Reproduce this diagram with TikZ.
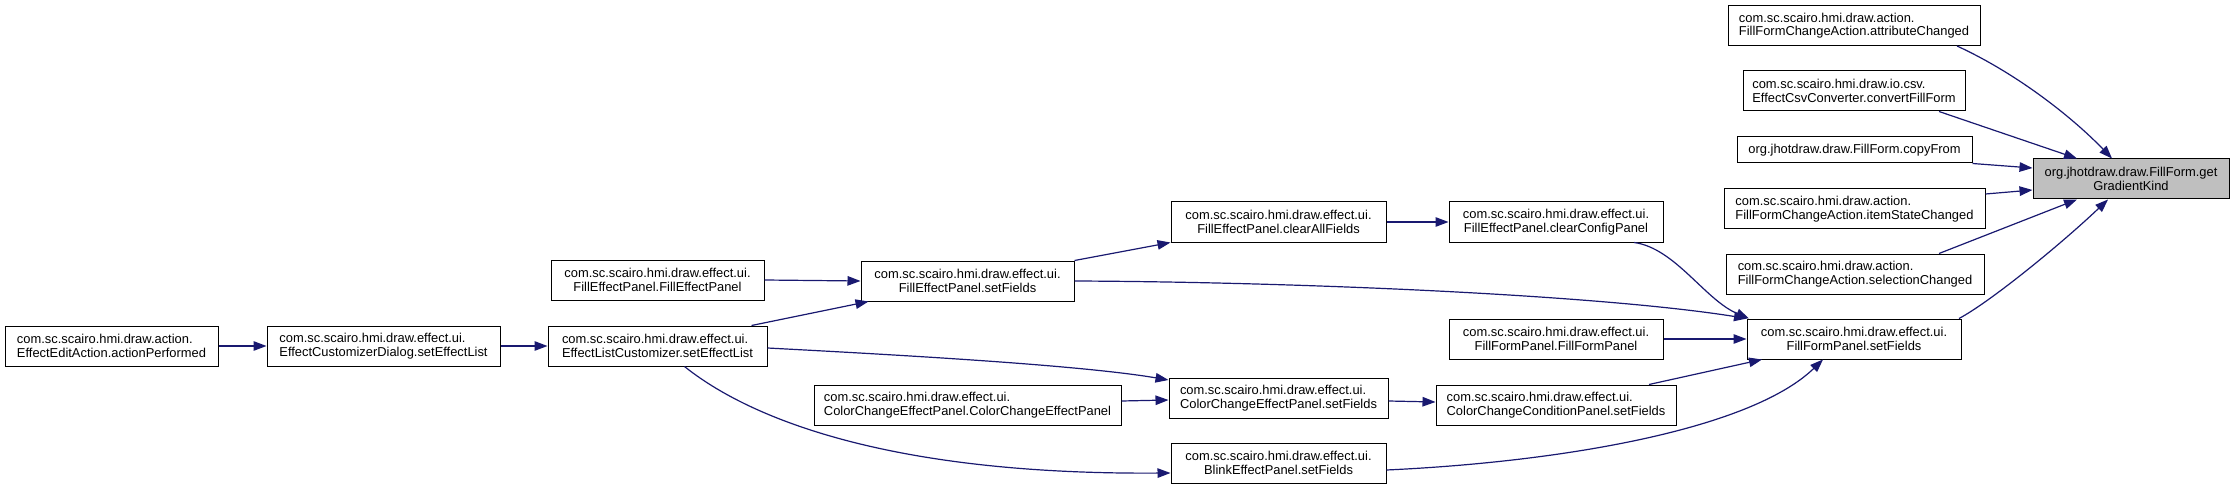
\documentclass[tikz,border=0pt]{standalone}
\usepackage{fontspec}
\setmainfont{Liberation Sans}
\usetikzlibrary{arrows.meta}
\definecolor{edgeblue}{HTML}{191970}
\definecolor{hilite}{HTML}{BFBFBF}
\newcommand\nodefont{\fontsize{12.9}{13.6}\selectfont}
\begin{document}
\begin{tikzpicture}[x=1pt,y=-1pt,
  box/.style={draw=black, line width=1pt, fill=white, font=\nodefont, inner sep=0pt, minimum height=40pt, align=center},
  lbox/.style={box, align=left},
  conn/.style={draw=edgeblue, line width=1.2pt, -{Triangle[length=13pt,width=9.5pt]}, fill=none}
]
\fill[white] (0,0) rectangle (2235,489);
\useasboundingbox (0,0) rectangle (2235,489);

% nodes
\node[lbox, minimum width=252pt] (attr) at (1854,25.5) {com.sc.scairo.hmi.draw.action.\\FillFormChangeAction.attributeChanged};
\node[lbox, minimum width=222pt] (conv) at (1854,91) {com.sc.scairo.hmi.draw.io.csv.\\EffectCsvConverter.convertFillForm};
\node[box, minimum width=235pt, minimum height=26pt] (copy) at (1854.5,150) {org.jhotdraw.draw.FillForm.copyFrom};
\node[box, fill=hilite, minimum width=196pt] (ggk) at (2131,179) {org.jhotdraw.draw.FillForm.get\\GradientKind};
\node[lbox, minimum width=261pt] (item) at (1854.5,209) {com.sc.scairo.hmi.draw.action.\\FillFormChangeAction.itemStateChanged};
\node[lbox, minimum width=258pt] (sel) at (1855,274) {com.sc.scairo.hmi.draw.action.\\FillFormChangeAction.selectionChanged};
\node[box, minimum width=214pt] (ffps) at (1854,339) {com.sc.scairo.hmi.draw.effect.ui.\\FillFormPanel.setFields};
\node[box, minimum width=214pt] (ffpc) at (1556,339) {com.sc.scairo.hmi.draw.effect.ui.\\FillFormPanel.FillFormPanel};
\node[lbox, minimum width=240pt] (cccp) at (1556,405) {com.sc.scairo.hmi.draw.effect.ui.\\ColorChangeConditionPanel.setFields};
\node[box, minimum width=214pt] (ccfg) at (1556,222) {com.sc.scairo.hmi.draw.effect.ui.\\FillEffectPanel.clearConfigPanel};
\node[box, minimum width=215pt] (caf) at (1278.5,222) {com.sc.scairo.hmi.draw.effect.ui.\\FillEffectPanel.clearAllFields};
\node[box, minimum width=213pt] (feps) at (967.5,281) {com.sc.scairo.hmi.draw.effect.ui.\\FillEffectPanel.setFields};
\node[box, minimum width=213pt] (fepc) at (657.5,280) {com.sc.scairo.hmi.draw.effect.ui.\\FillEffectPanel.FillEffectPanel};
\node[lbox, minimum width=219pt] (elc) at (657.5,346) {com.sc.scairo.hmi.draw.effect.ui.\\EffectListCustomizer.setEffectList};
\node[lbox, minimum width=233pt] (ecd) at (383.5,346) {com.sc.scairo.hmi.draw.effect.ui.\\EffectCustomizerDialog.setEffectList};
\node[lbox, minimum width=213pt] (eea) at (111.5,346) {com.sc.scairo.hmi.draw.action.\\EffectEditAction.actionPerformed};
\node[lbox, minimum width=307pt] (ccepc) at (967.5,405) {com.sc.scairo.hmi.draw.effect.ui.\\ColorChangeEffectPanel.ColorChangeEffectPanel};
\node[lbox, minimum width=219pt] (cceps) at (1278.5,398) {com.sc.scairo.hmi.draw.effect.ui.\\ColorChangeEffectPanel.setFields};
\node[box, minimum width=215pt] (beps) at (1278.5,463) {com.sc.scairo.hmi.draw.effect.ui.\\BlinkEffectPanel.setFields};

% connectors
\draw[conn] ([xshift=103pt]attr.south) .. controls (2020,75) and (2075,120) .. ([xshift=-19pt]ggk.north);
\draw[conn] ([xshift=85pt]conv.south) -- ([xshift=-54pt]ggk.north);
\draw[conn] (copy.south east) -- ([yshift=11pt]ggk.west);
\draw[conn] ([yshift=15pt]item.east) -- ([yshift=-11pt]ggk.west);
\draw[conn] ([xshift=84pt]sel.north) -- ([xshift=-54pt]ggk.south);
\draw[conn] ([xshift=105pt]ffps.north) .. controls (1990,302) and (2060,245) .. ([xshift=-23pt]ggk.south);
\draw[conn] ([xshift=78pt]ccfg.south) .. controls (1675,248) and (1705,300) .. ([xshift=-105pt]ffps.north);
\draw[conn] (feps.east) .. controls (1300,282) and (1600,295) .. ([xshift=-107pt]ffps.north);
\draw[conn] (ffpc.east) -- (ffps.west);
\draw[conn] ([xshift=93pt]cccp.north) -- ([xshift=-92pt]ffps.south);
\draw[conn] ([yshift=-7pt]beps.east) .. controls (1560,462) and (1750,430) .. ([xshift=-31pt]ffps.south);
\draw[conn] (caf.east) -- (ccfg.west);
\draw[conn] (feps.north east) -- (caf.south west);
\draw[conn] (fepc.east) -- (feps.west);
\draw[conn] ([xshift=94pt]elc.north) -- ([xshift=-99pt]feps.south);
\draw[conn] ([yshift=-2pt]elc.east) .. controls (900,355) and (1080,365) .. ([yshift=18pt]cceps.west);
\draw[conn] ([xshift=27pt]elc.south) .. controls (745,415) and (880,475) .. ([yshift=-10pt]beps.west);
\draw[conn] ([yshift=4pt]ccepc.east) -- ([yshift=-2pt]cceps.west);
\draw[conn] ([yshift=-3pt]cceps.east) -- ([yshift=3pt]cccp.west);
\draw[conn] (ecd.east) -- (elc.west);
\draw[conn] (eea.east) -- (ecd.west);
\end{tikzpicture}
\end{document}
